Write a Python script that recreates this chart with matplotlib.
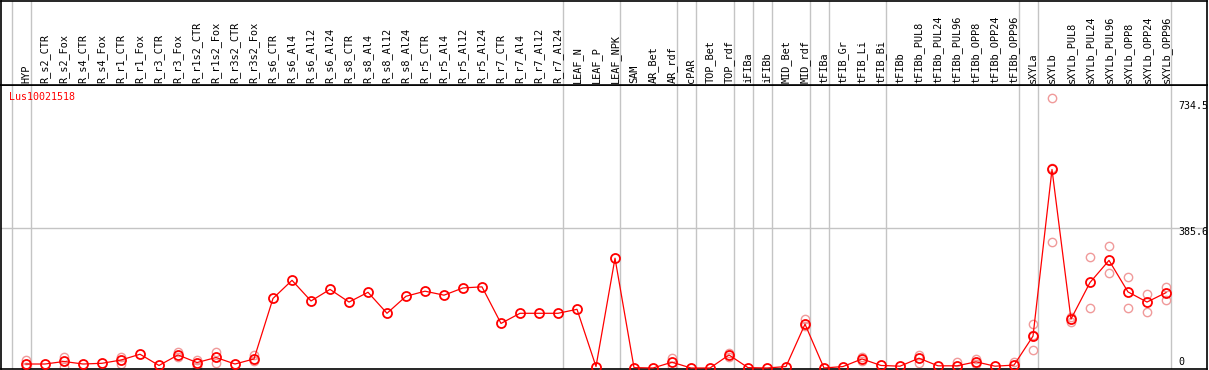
import matplotlib.pyplot as plt
import numpy as np

gene = 'Lus10021518'

samples = ['HYP', 'R_s2_CTR', 'R_s2_Fox', 'R_s4_CTR', 'R_s4_Fox', 'R_r1_CTR', 'R_r1_Fox',
           'R_r3_CTR', 'R_r3_Fox', 'R_r1s2_CTR', 'R_r1s2_Fox', 'R_r3s2_CTR', 'R_r3s2_Fox',
           'R_s6_CTR', 'R_s6_Al4', 'R_s6_Al12', 'R_s6_Al24', 'R_s8_CTR', 'R_s8_Al4',
           'R_s8_Al12', 'R_s8_Al24', 'R_r5_CTR', 'R_r5_Al4', 'R_r5_Al12', 'R_r5_Al24',
           'R_r7_CTR', 'R_r7_Al4', 'R_r7_Al12', 'R_r7_Al24', 'LEAF_N', 'LEAF_P', 'LEAF_NPK',
           'SAM', 'AR_Bet', 'AR_rdf', 'cPAR', 'TOP_Bet', 'TOP_rdf', 'iFIBa', 'iFIBb',
           'MID_Bet', 'MID_rdf', 'tFIBa', 'tFIB_Gr', 'tFIB_Li', 'tFIB_Bi', 'tFIBb',
           'tFIBb_PUL8', 'tFIBb_PUL24', 'tFIBb_PUL96', 'tFIBb_OPP8', 'tFIBb_OPP24',
           'tFIBb_OPP96', 'sXYLa', 'sXYLb', 'sXYLb_PUL8', 'sXYLb_PUL24', 'sXYLb_PUL96',
           'sXYLb_OPP8', 'sXYLb_OPP24', 'sXYLb_OPP96']

means = [11, 11, 18, 11, 13, 22, 38, 7, 36, 15, 29, 11, 25,
         192, 242, 185, 217, 182, 209, 151, 198, 212, 201, 221, 224,
         123, 151, 151, 151, 162, 4, 303,
         1, 0, 16, 0, 0, 36, 1, 0, 4, 121, 0, 4, 25, 7, 5,
         27, 6, 6, 17, 5, 8, 88, 548, 135, 236, 297, 210, 182, 208]

# replicate values (only the ones visible apart from the mean)
rep_idx = [0, 0, 2, 2, 5, 5, 8, 8, 9, 9, 10, 10, 12, 12,
           34, 34, 37, 37, 41, 41, 44, 44, 47, 47, 49, 50, 50, 52,
           53, 53, 53, 54, 54, 54, 55, 55, 56, 56, 57, 57, 58, 58, 59, 59, 60, 60]
rep_vals = [22, 4, 31, 4, 31, 10, 44, 31, 22, 4, 45, 15, 36, 20,
            28, 6, 42, 30, 134, 116, 31, 20, 36, 15, 16, 24, 10, 17,
            121, 50, 92, 744, 349, 551, 140, 128, 305, 166, 336, 261, 250, 165, 203, 155, 223, 188]

separators = [-0.75, 0.25, 28.25, 31.25, 34.25, 35.25, 37.25, 38.25, 39.25,
              41.25, 42.25, 45.25, 52.25, 53.25, 60.25]
grid_vals = [385.6]
right_labels = ['734.5', '385.6', '0']
right_vals = [734.5, 385.6, 0]

W, H = 1209, 370
fig = plt.figure(figsize=(W / 100, H / 100), dpi=100)
ax = fig.add_axes([1 / W, 1 / H, 1206 / W, 284 / H])
hax = fig.add_axes([1 / W, 285 / H, 1206 / W, 84 / H], sharex=ax)

x = np.arange(len(samples))
gray = '#c4c4c4'

for s in separators:
    ax.axvline(s, color=gray, lw=1, zorder=1)
    hax.axvline(s, color=gray, lw=1, zorder=1)
for g in grid_vals:
    ax.axhline(g, color=gray, lw=1, zorder=1)

ax.plot(rep_idx, rep_vals, ls='none', marker='o', ms=6, mfc='none', mec='#f09a9a', mew=1.0, zorder=2)
ax.plot(x, means, color='red', lw=0.9, marker='o', ms=6.5, mfc='none', mec='red', mew=1.3, zorder=3)

ax.set_xlim(-25 / 19, 1181 / 19)
ax.set_ylim(-2.76, 781.1)
ax.set_xticks([])
ax.set_yticks([])
hax.set_yticks([])
hax.tick_params(bottom=False, labelbottom=False)
for a in (ax, hax):
    for sp in a.spines.values():
        sp.set_color('black')
        sp.set_linewidth(1.2)

mono = 'DejaVu Sans Mono'
for i, name in enumerate(samples):
    hax.text(i, 0.02, name, rotation=90, ha='center', va='bottom', fontsize=7.4,
             family=mono, transform=hax.get_xaxis_transform())

ax.text(0.0066, 0.958, gene, color='red', fontsize=7.2, family=mono,
        ha='left', va='center', transform=ax.transAxes)

for lab, v in zip(right_labels, right_vals):
    off = 6 if v == 0 else -4
    ax.annotate(lab, xy=(0.9759, v), xycoords=('axes fraction', 'data'),
                xytext=(0, off), textcoords='offset pixels', fontsize=7.2,
                family=mono, ha='left', va='center')

fig.savefig('out.png', dpi=100)
